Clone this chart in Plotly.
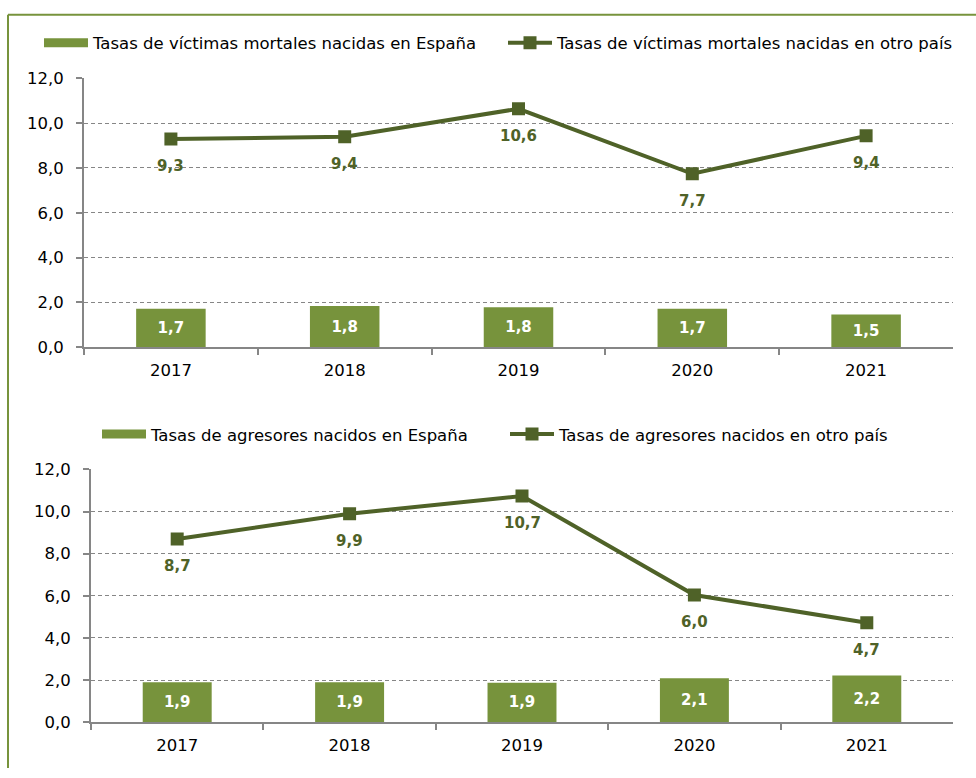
import plotly.graph_objects as go

years = ["2017", "2018", "2019", "2020", "2021"]
victimas_espana = [1.72, 1.84, 1.78, 1.72, 1.46]
victimas_otro = [9.29, 9.39, 10.64, 7.74, 9.43]
agresores_espana = [1.90, 1.90, 1.87, 2.08, 2.22]
agresores_otro = [8.70, 9.90, 10.74, 6.04, 4.72]

name_v_esp = "Tasas de víctimas mortales nacidas en España"
name_v_otro = "Tasas de víctimas mortales nacidas en otro país"
name_a_esp = "Tasas de agresores nacidos en España"
name_a_otro = "Tasas de agresores nacidos en otro país"

BAR = "#77933c"
LINE = "#4f6228"
AXIS = "#868686"
FONT = "DejaVu Sans"

W, H = 976, 778
YTOP = 12.03  # tiny headroom so the 12,0 gridline is drawn

fig = go.Figure()
annotations = []

def add_panel(bars, line, nb, nl, xa, ya, legend):
    fig.add_trace(go.Scatter(x=[None], y=[None], mode="lines", name=nb,
                             line=dict(color=BAR, width=9), legend=legend,
                             legendgroup=nb, xaxis=xa, yaxis=ya, hoverinfo="skip"))
    fig.add_trace(go.Bar(x=years, y=bars, name=nb, marker=dict(color=BAR, line=dict(width=0)),
                         width=0.4, texttemplate="%{y:.1f}", textposition="inside",
                         insidetextanchor="middle", textangle=0, constraintext="none",
                         textfont=dict(color="white", size=15, family=FONT, weight="bold"),
                         showlegend=False, legendgroup=nb, xaxis=xa, yaxis=ya))
    fig.add_trace(go.Scatter(x=years, y=line, name=nl, mode="lines+markers",
                             line=dict(color=LINE, width=4),
                             marker=dict(symbol="square", size=13, color=LINE),
                             legend=legend, xaxis=xa, yaxis=ya))
    for i, v in enumerate(line):
        annotations.append(dict(x=i, y=v, xref=xa, yref=ya, text=f"{v:.1f}".replace(".", ","),
                                showarrow=False, yshift=-27,
                                font=dict(color=LINE, size=15, family=FONT, weight="bold")))

add_panel(victimas_espana, victimas_otro, name_v_esp, name_v_otro, "x", "y", "legend")
add_panel(agresores_espana, agresores_otro, name_a_esp, name_a_otro, "x2", "y2", "legend2")

def yaxis(domain, anchor):
    return dict(domain=domain, anchor=anchor, range=[0, YTOP], tickvals=[0, 2, 4, 6, 8, 10, 12],
                tickformat=".1f",
                showline=True, linecolor=AXIS, linewidth=2, ticks="outside", ticklen=6,
                tickcolor=AXIS, tickwidth=1.5, showgrid=True, gridcolor=AXIS, griddash="4px,3px",
                gridwidth=1, zeroline=False, tickfont=dict(size=16.5, color="black", family=FONT),
                ticklabelstandoff=9, fixedrange=True)

def xaxis(domain, anchor):
    return dict(domain=domain, anchor=anchor, type="category", categoryorder="array",
                categoryarray=years, range=[-0.5, 4.5], showline=True, linecolor=AXIS,
                linewidth=2, ticks="outside", ticklen=6, tickcolor=AXIS, tickwidth=1.5,
                tickson="boundaries", showgrid=False, zeroline=False,
                tickfont=dict(size=16.5, color="black", family=FONT), ticklabelstandoff=7,
                tickangle=0, fixedrange=True)

legend_font = dict(size=16.5, family=FONT, color="black")

top0, top12 = 346.7, 71.0
bot0, bot12 = 731.0, 472.0
top_end = top0 - (top0 - top12) * YTOP / 12
bot_end = bot0 - (bot0 - bot12) * YTOP / 12

fig.update_layout(
    width=W, height=H, margin=dict(l=0, r=0, t=0, b=0),
    paper_bgcolor="white", plot_bgcolor="white",
    separators=",.",
    font=dict(family=FONT, color="black", size=15),
    xaxis=xaxis([84 / W, 953 / W], "y"),
    yaxis=yaxis([1 - top0 / H, 1 - top_end / H], "x"),
    xaxis2=xaxis([91 / W, 953 / W], "y2"),
    yaxis2=yaxis([1 - bot0 / H, 1 - bot_end / H], "x2"),
    legend=dict(orientation="h", x=39 / W, y=1 - 35 / H, xanchor="left", yanchor="middle",
                font=legend_font, bgcolor="rgba(0,0,0,0)", itemwidth=44, entrywidth=405,
                itemclick=False, itemdoubleclick=False),
    legend2=dict(orientation="h", x=97 / W, y=1 - 436 / H, xanchor="left", yanchor="middle",
                 font=legend_font, bgcolor="rgba(0,0,0,0)", itemwidth=44, entrywidth=349,
                 itemclick=False, itemdoubleclick=False),
    showlegend=True,
    annotations=annotations,
    shapes=[
        dict(type="line", xref="paper", yref="paper", x0=8 / W, x1=8 / W, y0=0, y1=1 - 6 / H,
             line=dict(color=BAR, width=2)),
        dict(type="line", xref="paper", yref="paper", x0=8 / W, x1=1, y0=1 - 6 / H, y1=1 - 6 / H,
             line=dict(color=BAR, width=2)),
    ],
)

fig.write_html("out.html", config={"displayModeBar": False},
               post_script="document.body.style.margin='0';document.body.style.overflow='hidden';")
